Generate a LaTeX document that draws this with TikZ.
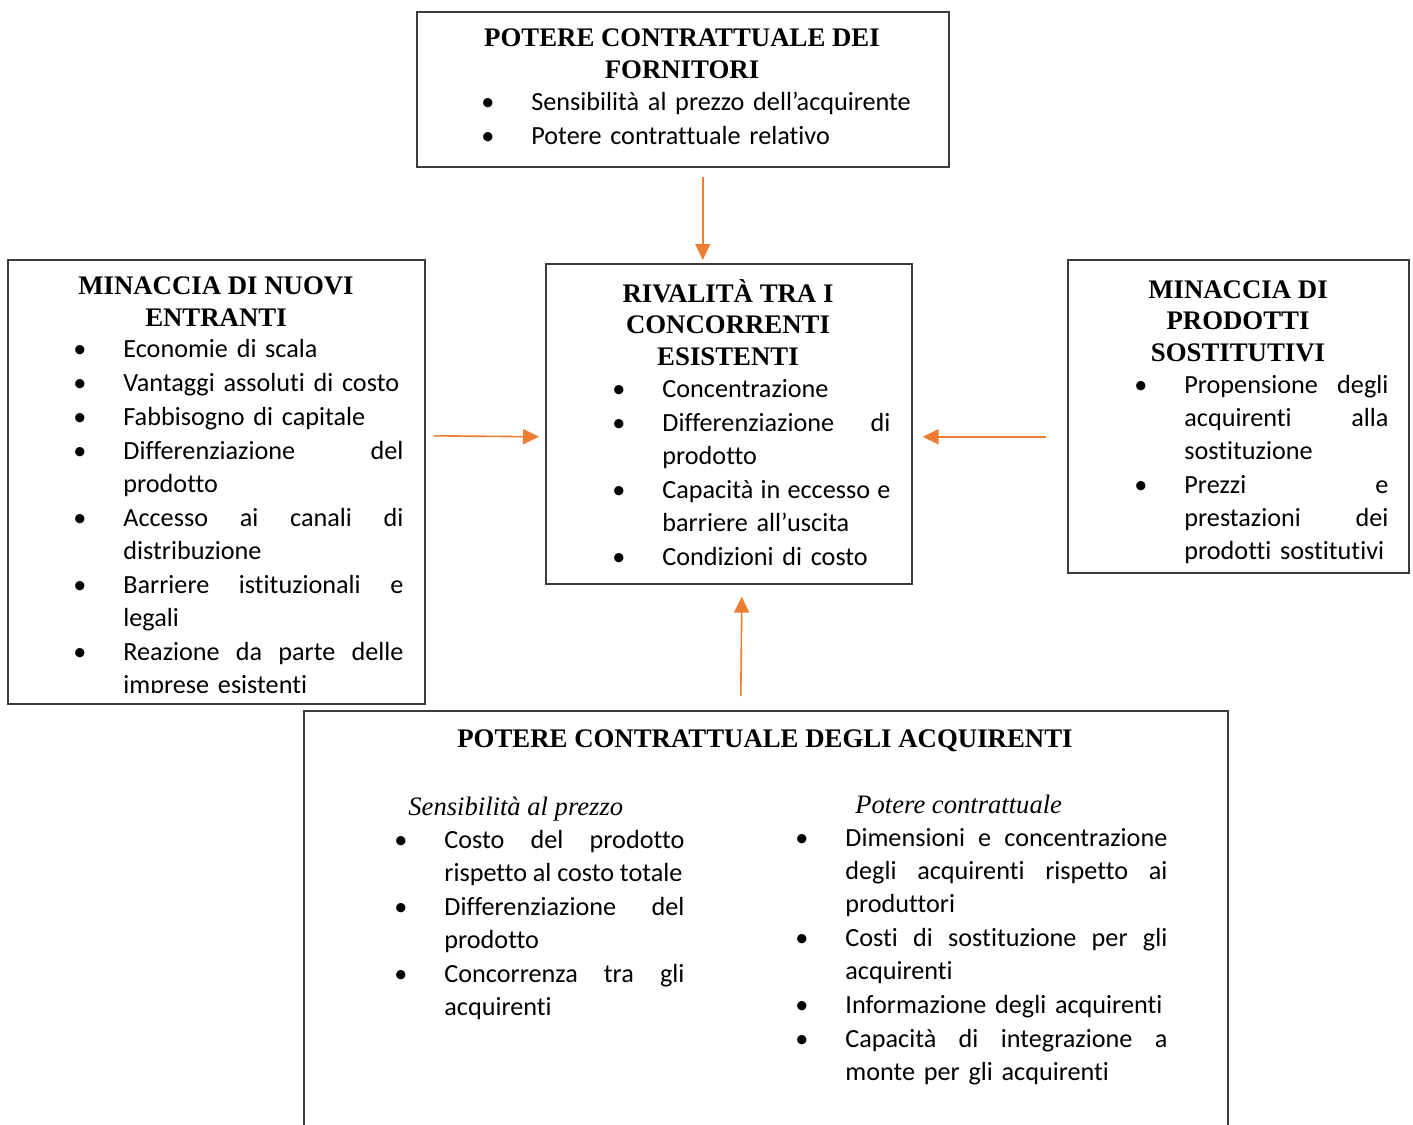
\documentclass[tikz,border=0pt]{standalone}
\usepackage{fontspec}
\setmainfont{Liberation Serif}
\newfontfamily\bodyfont[Ligatures={NoCommon}]{Carlito}
\usepackage{enumitem}
\usetikzlibrary{arrows.meta,calc}
\definecolor{forceorange}{HTML}{ED7D31}
\definecolor{framegray}{HTML}{3C3C3C}

% bullet list used inside every box
\newenvironment{blist}{\begin{itemize}[label=\textbullet, leftmargin=21pt, labelsep=18.5pt,
  itemsep=0.6pt, topsep=0pt, parsep=0pt, partopsep=0pt]}{\end{itemize}}
% tight word space for a line set to full measure
\newcommand{\tsp}{\hspace{1.9pt plus 1fil}}

\tikzset{
  box/.style={draw=framegray, line width=0.8pt, inner sep=0pt, anchor=north west},
  heading/.style={font=\bfseries\fontsize{13.4}{15.6}\selectfont, align=center, inner sep=0pt, anchor=base},
  sub/.style={font=\itshape\fontsize{13.3}{15}\selectfont, inner sep=0pt, anchor=base west},
  items/.style={font=\bodyfont\fontsize{13.1}{16.4}\selectfont, inner sep=0pt, anchor=base west, text width=#1},
  force/.style={draw=forceorange, line width=0.8pt, -{Triangle[length=8pt,width=7.5pt]}}
}

\begin{document}
\begin{tikzpicture}[x=0.5pt, y=-0.5pt]
\useasboundingbox[fill=white] (0,0) rectangle (1413,1124);

% frames
\node[box, minimum width=266pt, minimum height=77.5pt] (sup) at (416,11) {};
\node[box, minimum width=183pt, minimum height=160pt] (riv) at (545,263) {};
\node[box, minimum width=208.5pt, minimum height=222pt] (ent) at (7,259) {};
\node[box, minimum width=170.5pt, minimum height=156.5pt] (sos) at (1067,259) {};
\node[box, minimum width=462pt, minimum height=250pt] (acq) at (303,710) {};

% suppliers
\node[heading] (supT) at (682,78) {POTERE CONTRATTUALE DEI\\FORNITORI};
\node[items=221pt] (supL) at (489,78) {\begin{blist}
  \item Sensibilità al prezzo dell’acquirente
  \item Potere contrattuale relativo
\end{blist}};

% rivalry
\node[heading] (rivT) at (728,365) {RIVALITÀ TRA I\\CONCORRENTI\\ESISTENTI};
\node[items=135pt] (rivL) at (620,365) {\begin{blist}
  \item Concentrazione
  \item Differenziazione\hfill di\\prodotto
  \item Capacità\hfill in\hfill eccesso\hfill e\\barriere all’uscita
  \item Condizioni di costo
\end{blist}};

% new entrants
\node[heading] (entT) at (216,326) {MINACCIA DI NUOVI\\ENTRANTI};
\begin{scope}
\clip (7,259) rectangle (424,692);
\node[items=161pt] (entL) at (81,325) {\begin{blist}
  \item Economie di scala
  \item Vantaggi assoluti di costo
  \item Fabbisogno di capitale
  \item Differenziazione\hfill del\\prodotto
  \item Accesso\hfill ai\hfill canali\hfill di\\distribuzione
  \item Barriere\hfill istituzionali\hfill e\\legali
  \item Reazione\hfill da\hfill parte\hfill delle\\imprese esistenti
\end{blist}};
\end{scope}

% substitutes
\node[heading] (sosT) at (1238,361) {MINACCIA DI\\PRODOTTI\\SOSTITUTIVI};
\node[items=123pt] (sosL) at (1142,361) {\begin{blist}
  \item Propensione\hfill degli\\acquirenti\hfill alla\\sostituzione
  \item Prezzi\hfill e\\prestazioni\hfill dei\\prodotti sostitutivi
\end{blist}};

% buyers
\node[heading] (acqT) at (765,747) {POTERE CONTRATTUALE DEGLI ACQUIRENTI};
\node[sub] (acqS1) at (408,815) {Sensibilità al prezzo};
\node[sub] (acqS2) at (855,813) {Potere contrattuale};
\node[items=141pt] (acqL1) at (402,816) {\begin{blist}
  \item Costo\hfill del\hfill prodotto\\\makebox[120pt][l]{rispetto\tsp al\tsp costo\tsp totale}
  \item Differenziazione\hfill del\\prodotto
  \item Concorrenza\hfill tra\hfill gli\\acquirenti
\end{blist}};
\node[items=182pt] (acqL2) at (803,814) {\begin{blist}
  \item Dimensioni\hfill e\hfill concentrazione\\degli\hfill acquirenti\hfill rispetto\hfill ai\\produttori
  \item Costi\hfill di\hfill sostituzione\hfill per\hfill gli\\acquirenti
  \item Informazione degli acquirenti
  \item Capacità\hfill di\hfill integrazione\hfill a\\monte per gli acquirenti
\end{blist}};

% forces acting on the rivalry
\draw[force] ($(sup.south)+(20,9)$) -- ($(riv.north)+(-26,-3)$);
\draw[force] ($(ent.east)+(8,-46)$) -- ($(riv.west)+(-6,13)$);
\draw[force] ($(sos.west)+(-21,20.5)$) -- ($(riv.east)+(10,13)$);
\draw[force] ($(acq.north)+(-25,-14)$) -- ($(riv.south)+(13,12)$);
\end{tikzpicture}
\end{document}
